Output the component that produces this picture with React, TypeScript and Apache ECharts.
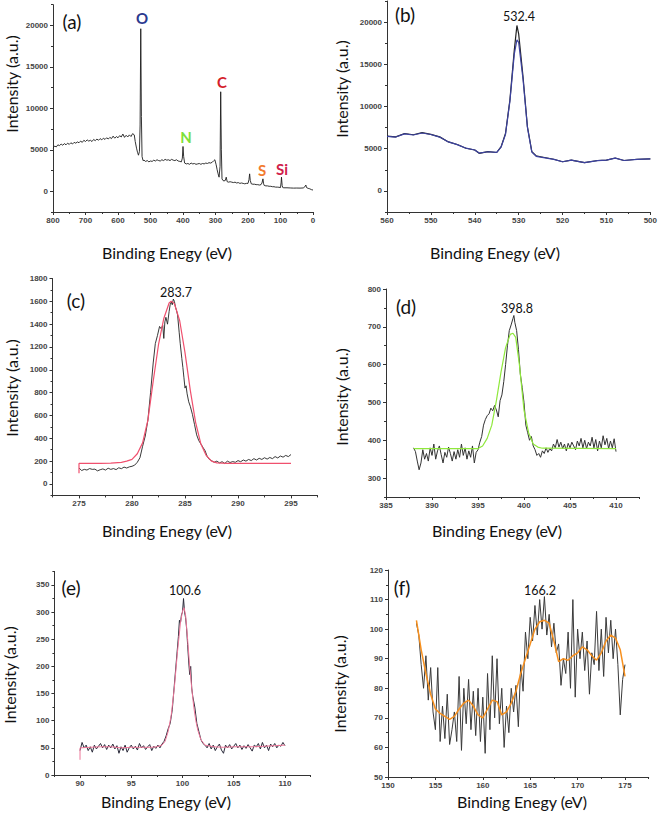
import React, { useEffect, useRef } from "react";
import * as echarts from "echarts";

// ---------- Panel (a): survey ----------
const aX = [800,795,790,785,780,775,770,765,760,755,750,745,740,735,730,725,720,715,710,705,700,695,690,685,680,675,670,665,660,655,650,645,640,635,630,625,620,615,610,605,600,595,590,585,580,575,570,565,560,555,550,547,543,540,537,534,532,530,528,526,523,520,515,510,505,500,495,490,485,480,475,470,465,460,455,450,445,440,435,430,425,420,415,410,405,402,400,398,395,390,385,380,375,370,365,360,355,350,345,340,335,330,325,320,315,310,305,302,298,295,292,289,286,284,282,280,277,274,270,267,264,260,255,250,245,240,235,230,225,220,215,210,205,200,197,195,193,190,185,180,175,170,165,160,157,154,152,150,145,140,135,130,125,120,115,110,105,100,98,97,95,93,90,80,70,60,50,40,30,25,22,20,15,10,5,0];
const aY = [5200,5450,5350,5600,5500,5700,5550,5750,5600,5800,5650,5850,5700,5900,5800,5950,5850,6050,5900,6150,6000,6200,6050,6150,6000,6250,6100,6300,6150,6350,6200,6400,6250,6450,6300,6500,6350,6650,6400,6600,6450,6700,6550,6900,6500,6750,6550,6800,6600,6950,6800,6000,5200,4700,4350,4800,8000,19600,9000,4200,3700,3750,3600,3700,3550,3650,3600,3750,3650,3800,3700,3650,3800,3700,3850,3750,3800,3700,3850,3750,3700,3800,3650,3600,3550,4000,5400,4200,3400,3300,3350,3250,3400,3300,3350,3250,3300,3350,3250,3350,3300,3400,3350,3450,3400,3500,3700,3800,3200,2600,2100,1700,3000,12000,5000,1500,1300,1250,1300,1700,1150,1100,1150,1100,1050,1100,1000,1050,950,1000,950,900,950,950,1400,2100,1300,900,850,850,800,800,750,800,1000,1500,900,700,650,650,600,600,550,550,500,500,480,450,1100,1700,700,450,420,420,400,380,390,380,400,550,750,450,350,300,200,150];

// ---------- Panel (b): O 1s ----------
const bX = [560,558,556,554,552,550,548,546,544,542,540,539,537,535,534,533,532,531,530.4,530,529,528,527,526,525,522,520,518,515,512,510,508,506,503,500];
const bBlackY = [6500,6400,6800,6650,6900,6700,6400,5800,5500,5050,4850,4450,4650,4550,5250,6800,10750,16650,19600,18600,13500,7600,4650,4150,4050,3750,3450,3650,3350,3600,3650,3900,3600,3750,3800];
const bFitY = [6450,6380,6750,6620,6860,6680,6380,5800,5480,5060,4850,4480,4640,4560,5200,6700,10600,16200,17900,17600,13200,7500,4600,4100,4000,3730,3450,3640,3360,3590,3640,3880,3600,3740,3790];

// ---------- Panel (c): C 1s ----------
const cX = [275,275.25,275.5,275.75,276,276.25,276.5,276.75,277,277.25,277.5,277.75,278,278.25,278.5,278.75,279,279.25,279.5,279.75,280,280.25,280.5,280.75,281,281.25,281.5,281.75,282,282.2,282.4,282.6,282.75,282.9,283,283.1,283.2,283.35,283.5,283.6,283.7,283.8,283.9,284,284.1,284.2,284.3,284.45,284.55,284.7,284.8,284.9,285,285.1,285.2,285.35,285.5,285.7,285.9,286.1,286.3,286.5,286.7,286.9,287.1,287.3,287.5,287.75,288,288.25,288.5,288.75,289,289.25,289.5,289.75,290,290.25,290.5,290.75,291,291.25,291.5,291.75,292,292.25,292.5,292.75,293,293.25,293.5,293.75,294,294.25,294.5,294.75,295];
const cY = [140,118,128,122,135,128,130,115,125,132,122,138,128,135,126,142,134,148,140,150,155,165,190,230,330,420,560,800,1060,1230,1300,1380,1360,1390,1275,1420,1460,1400,1510,1570,1595,1570,1620,1600,1550,1520,1480,1330,1230,1100,1020,930,840,860,790,720,680,610,520,430,380,350,320,290,240,215,205,190,200,185,195,180,200,188,196,190,205,195,210,200,215,205,222,210,225,215,230,218,232,222,240,228,245,235,250,240,258];
const cFitX = [275,275,276,277,278,279,279.5,280,280.5,281,281.5,282,282.5,283,283.5,283.7,284,284.5,285,285.5,286,286.5,287,287.5,288,289,295];
const cFitY = [95,180,180,180,182,190,200,215,265,360,560,900,1220,1450,1585,1600,1580,1430,1150,820,540,350,250,200,185,180,180];

// ---------- Panel (d): N 1s ----------
const dX = [388,388.2,388.4,388.6,388.8,389,389.2,389.4,389.6,389.8,390,390.2,390.4,390.6,390.8,391,391.2,391.4,391.6,391.8,392,392.2,392.4,392.6,392.8,393,393.2,393.4,393.6,393.8,394,394.2,394.4,394.6,394.8,395,395.2,395.4,395.6,395.8,396,396.2,396.4,396.6,396.8,397,397.2,397.4,397.6,397.8,398,398.2,398.4,398.6,398.8,398.9,399,399.2,399.4,399.6,399.8,400,400.2,400.4,400.6,400.8,401,401.2,401.4,401.6,401.8,402,402.2,402.4,402.6,402.8,403,403.2,403.4,403.6,403.8,404,404.2,404.4,404.6,404.8,405,405.2,405.4,405.6,405.8,406,406.2,406.4,406.6,406.8,407,407.2,407.4,407.6,407.8,408,408.2,408.4,408.6,408.8,409,409.2,409.4,409.6,409.8,410];
const dY = [380,370,345,322,340,375,350,365,345,380,360,390,350,372,385,362,340,368,355,382,365,345,370,350,375,355,390,360,380,350,372,355,385,340,368,375,395,410,440,455,465,470,485,478,492,480,462,505,520,555,600,650,690,705,722,730,712,690,640,575,540,500,440,420,400,410,385,375,360,365,355,372,365,380,368,378,372,390,380,402,382,395,378,390,372,392,380,395,385,375,398,385,405,380,400,378,395,385,408,380,402,372,398,380,412,388,405,378,398,380,404,370];
const dFitX = [388,395,395.5,396,396.5,397,397.5,398,398.5,398.8,399.1,399.5,400,400.5,401,401.5,402,410];
const dFitY = [378,378,385,405,440,505,580,645,680,683,672,600,480,420,390,382,379,378];

// ---------- Panel (e): Si 2p ----------
const eX = [90,90.2,90.4,90.6,90.8,91,91.2,91.4,91.6,91.8,92,92.2,92.4,92.6,92.8,93,93.2,93.4,93.6,93.8,94,94.2,94.4,94.6,94.8,95,95.2,95.4,95.6,95.8,96,96.2,96.4,96.6,96.8,97,97.2,97.4,97.6,97.8,98,98.2,98.4,98.6,98.8,99,99.2,99.4,99.6,99.7,99.8,99.9,100,100.1,100.2,100.3,100.4,100.5,100.6,100.7,100.8,100.9,101,101.2,101.4,101.6,101.8,102,102.2,102.4,102.6,102.8,103,103.2,103.4,103.6,103.8,104,104.2,104.4,104.6,104.8,105,105.2,105.4,105.6,105.8,106,106.2,106.4,106.6,106.8,107,107.2,107.4,107.6,107.8,108,108.2,108.4,108.6,108.8,109,109.2,109.4,109.6,109.8,110];
const eY = [45,60,50,55,45,52,42,55,48,53,58,50,56,47,55,50,57,48,54,40,52,45,55,42,50,55,48,53,46,58,50,54,47,52,56,45,53,49,55,50,57,62,72,85,95,120,165,210,255,285,280,295,300,325,300,290,270,240,210,185,200,160,145,125,95,80,65,58,55,50,58,48,55,45,52,57,46,40,55,50,56,48,53,58,50,55,47,54,49,56,50,44,55,52,58,48,60,50,55,45,57,52,58,50,55,53,60,54];
const eFitX = [90,90,91,92,93,94,95,96,97,97.5,98,98.3,98.6,98.9,99.2,99.5,99.8,100,100.15,100.3,100.5,100.7,100.9,101.1,101.3,101.5,101.8,102.2,103,104,105,106,107,108,109,110];
const eFitY = [28,50,51,52,52,50,51,51,51,52,55,62,80,110,160,225,280,302,308,295,250,200,160,125,100,82,65,55,52,51,52,52,52,53,54,55];

// ---------- Panel (f): S 2p ----------
const fX = [153,153.25,153.5,153.75,154,154.25,154.5,154.75,155,155.25,155.5,155.75,156,156.25,156.5,156.75,157,157.25,157.5,157.75,158,158.25,158.5,158.75,159,159.25,159.5,159.75,160,160.25,160.5,160.75,161,161.25,161.5,161.75,162,162.25,162.5,162.75,163,163.25,163.5,163.75,164,164.25,164.5,164.75,165,165.25,165.5,165.75,166,166.25,166.5,166.75,167,167.25,167.5,167.75,168,168.25,168.5,168.75,169,169.25,169.5,169.75,170,170.25,170.5,170.75,171,171.25,171.5,171.75,172,172.25,172.5,172.75,173,173.25,173.5,173.75,174,174.25,174.5,174.75,175];
const fY = [102,98,88,80,91,76,87,72,66,87,62,74,63,78,61,66,72,62,84,59,80,68,83,66,79,64,80,62,77,58,85,66,91,70,90,68,80,60,74,65,80,72,81,67,88,79,99,90,104,96,108,98,110,100,111,98,105,94,102,92,95,81,90,85,99,80,110,77,100,90,99,86,96,78,92,88,106,86,100,84,104,92,103,90,100,88,71,83,88];
const fFitX = [153,153.5,154,154.5,155,155.5,156,156.5,157,157.5,158,158.5,159,159.5,160,160.5,161,161.5,162,162.5,163,163.5,164,164.5,165,165.5,166,166.5,167,167.5,168,168.5,169,169.5,170,170.5,171,171.5,172,172.5,173,173.5,174,174.5,175];
const fFitY = [103,93,85,78,73,71.5,70.5,69.5,70.5,73,75,76,74,71,70,73,76,75.5,71,72,75,79,85,90,95,100,102.5,103,102,96,89,90,89.5,91,92,94,93,91,89.5,92,96,98,97,93,84];

// ---------- Axis ticks / labels ----------
const aXLabels = [0,100,200,300,400,500,600,700,800];
const aXMinor = [50,150,250,350,450,550,650,750];
const abYLabels = [0,5000,10000,15000,20000];
const abYMinor = [-2500,2500,7500,12500,17500,22500];
const bXLabels = [500,510,520,530,540,550,560];
const bXMinor = [505,515,525,535,545,555];
const cXLabels = [275,280,285,290,295];
const cXMinor = [272.5,277.5,282.5,287.5,292.5,297.5];
const cYLabels = [0,200,400,600,800,1000,1200,1400,1600,1800];
const cYMinor = [-100,100,300,500,700,900,1100,1300,1500,1700];
const dXLabels = [385,390,395,400,405,410];
const dXMinor = [387.5,392.5,397.5,402.5,407.5,412.5];
const dYLabels = [300,400,500,600,700,800];
const dYMinor = [250,350,450,550,650,750];
const eXLabels = [90,95,100,105,110];
const eXMinor = [87.5,92.5,97.5,102.5,107.5,112.5];
const eYLabels = [0,50,100,150,200,250,300,350];
const eYMinor = [25,75,125,175,225,275,325,375];
const fXLabels = [150,155,160,165,170,175];
const fXMinor = [152.5,157.5,162.5,167.5,172.5,177.5];
const fYLabels = [50,60,70,80,90,100,110,120];
const fYMinor = [55,65,75,85,95,105,115];

const panelLetters = ["(a)", "(b)", "(c)", "(d)", "(e)", "(f)"];
const peakLabels = ["532.4", "283.7", "398.8", "100.6", "166.2"];
const elementLabels = ["O", "N", "C", "S", "Si"];
const elementColors = ["#2b3a8f", "#7ee03a", "#d4202a", "#f27b2e", "#d0204a"];

const pairs = (xs: number[], ys: number[]) => xs.map((x, i) => [x, ys[i]]);

const AXIS_COLOR = "#333";
const labelFont = {
  fontFamily: "Liberation Sans", fontSize: 8, fontWeight: "bold" as const, color: "#444",
  formatter: (v: number) => String(v),
};

function xAxes(gi: number, min: number, max: number, inverse: boolean, labels: number[], minors: number[]) {
  return [
    {
      type: "value", gridIndex: gi, min, max, inverse, position: "bottom",
      axisLine: { show: true, onZero: false, lineStyle: { color: AXIS_COLOR, width: 1 } },
      axisTick: { show: true, customValues: labels, length: 3, lineStyle: { color: AXIS_COLOR } },
      axisLabel: { customValues: labels, margin: 4, ...labelFont },
      splitLine: { show: false },
    },
    {
      type: "value", gridIndex: gi, min, max, inverse, position: "bottom",
      axisLine: { show: false, onZero: false },
      axisTick: { show: true, customValues: minors, length: 2, lineStyle: { color: AXIS_COLOR } },
      axisLabel: { show: false },
      splitLine: { show: false },
    },
  ];
}
function yAxes(gi: number, min: number, max: number, labels: number[], minors: number[]) {
  return [
    {
      type: "value", gridIndex: gi, min, max, position: "left",
      axisLine: { show: true, onZero: false, lineStyle: { color: AXIS_COLOR, width: 1 } },
      axisTick: { show: true, customValues: labels, length: 3, lineStyle: { color: AXIS_COLOR } },
      axisLabel: { customValues: labels, margin: 5, ...labelFont },
      splitLine: { show: false },
    },
    {
      type: "value", gridIndex: gi, min, max, position: "left",
      axisLine: { show: false, onZero: false },
      axisTick: { show: true, customValues: minors, length: 2, lineStyle: { color: AXIS_COLOR } },
      axisLabel: { show: false },
      splitLine: { show: false },
    },
  ];
}

function line(gi: number, data: number[][], color: string, width: number) {
  return {
    type: "line", xAxisIndex: gi * 2, yAxisIndex: gi * 2, data, showSymbol: false, symbol: "none",
    lineStyle: { color, width }, silent: true, z: 2,
  };
}

const TITLE_FONT = "Lato";

function text(x: number, y: number, s: string, size: number, fill: string, opts: any = {}) {
  return {
    type: "text", x, y, rotation: opts.rotation || 0,
    style: { text: s, fill, fontSize: size, fontFamily: opts.font || TITLE_FONT, fontWeight: opts.weight || "normal", align: "center", verticalAlign: "middle" },
    z: 10,
  };
}

export default function App() {
  const ref = useRef<HTMLDivElement>(null);
  useEffect(() => {
    if (!ref.current) return;
    const chart = echarts.init(ref.current, null, { renderer: "svg" });
    const grids = [
      { left: 53, top: 4.7, width: 260, height: 207.3 },
      { left: 387, top: 1, width: 265, height: 211 },
      { left: 52.5, top: 278.5, width: 265, height: 216.9 },
      { left: 386, top: 289, width: 253, height: 208 },
      { left: 54.4, top: 571.4, width: 256.2, height: 203.6 },
      { left: 388, top: 570, width: 260.7, height: 207 },
    ];
    const xAxis = [
      ...xAxes(0, 0, 800, true, aXLabels, aXMinor),
      ...xAxes(1, 500, 560, true, bXLabels, bXMinor),
      ...xAxes(2, 272.5, 297.5, false, cXLabels, cXMinor),
      ...xAxes(3, 385, 412.5, false, dXLabels, dXMinor),
      ...xAxes(4, 87.5, 112.5, false, eXLabels, eXMinor),
      ...xAxes(5, 150, 177.5, false, fXLabels, fXMinor),
    ];
    const yAxis = [
      ...yAxes(0, -2500, 22500, abYLabels, abYMinor),
      ...yAxes(1, -2500, 22500, abYLabels, abYMinor),
      ...yAxes(2, -100, 1800, cYLabels, cYMinor),
      ...yAxes(3, 250, 800, dYLabels, dYMinor),
      ...yAxes(4, 0, 375, eYLabels, eYMinor),
      ...yAxes(5, 50, 120, fYLabels, fYMinor),
    ];
    const series = [
      line(0, pairs(aX, aY), "#1e1e1e", 0.9),
      line(1, pairs(bX, bBlackY), "#222222", 1.2),
      line(1, pairs(bX, bFitY), "#3c42a0", 1.2),
      line(2, pairs(cX, cY), "#222222", 0.9),
      line(2, pairs(cFitX, cFitY), "#f0506e", 1.2),
      line(3, pairs(dX, dY), "#333333", 1),
      line(3, pairs(dFitX, dFitY), "#8fe83c", 1.2),
      line(4, pairs(eX, eY), "#2a2a3a", 1),
      line(4, pairs(eFitX, eFitY), "#ee7799", 1),
      line(5, pairs(fX, fY), "#3a3a3a", 1),
      line(5, pairs(fFitX, fFitY), "#f7901e", 1.5),
    ];
    const yTitle = "Intensity (a.u.)";
    const xTitle = "Binding Enegy (eV)";
    const rot = Math.PI / 2;
    const graphic = [
      text(11, 84, yTitle, 16, "#111", { rotation: rot }),
      text(341, 89, yTitle, 16, "#111", { rotation: rot }),
      text(11, 388, yTitle, 16, "#111", { rotation: rot }),
      text(341, 397, yTitle, 16, "#111", { rotation: rot }),
      text(9, 675, yTitle, 16, "#111", { rotation: rot }),
      text(339, 684, yTitle, 16, "#111", { rotation: rot }),
      text(167, 252, xTitle, 16, "#111"),
      text(495, 252, xTitle, 16, "#111"),
      text(167, 530, xTitle, 16, "#111"),
      text(497, 530, xTitle, 16, "#111"),
      text(166, 801, xTitle, 16, "#111"),
      text(522, 801, xTitle, 16, "#111"),
      text(72, 21, panelLetters[0], 19, "#111"),
      text(405, 14, panelLetters[1], 19, "#111"),
      text(76, 300, panelLetters[2], 19, "#111"),
      text(406, 306, panelLetters[3], 19, "#111"),
      text(71, 587, panelLetters[4], 19, "#111"),
      text(402, 587, panelLetters[5], 19, "#111"),
      text(519, 16, peakLabels[0], 12.5, "#111"),
      text(176, 292, peakLabels[1], 12.5, "#111"),
      text(517, 308, peakLabels[2], 12.5, "#111"),
      text(185, 590, peakLabels[3], 12.5, "#111"),
      text(540, 590, peakLabels[4], 12.5, "#111"),
      text(142, 18, elementLabels[0], 15, elementColors[0], { weight: "bold" }),
      text(186, 137, elementLabels[1], 15, elementColors[1], { weight: "bold" }),
      text(222, 82, elementLabels[2], 15, elementColors[2], { weight: "bold" }),
      text(262, 170, elementLabels[3], 15, elementColors[3], { weight: "bold" }),
      text(282, 169, elementLabels[4], 15, elementColors[4], { weight: "bold" }),
    ];
    chart.setOption({
      animation: false,
      backgroundColor: "#ffffff",
      grid: grids,
      xAxis,
      yAxis,
      series,
      graphic,
    });
    return () => chart.dispose();
  }, []);
  return (
    <div
      ref={ref}
      style={{ position: "absolute", left: 0, top: 0, width: 660, height: 815, background: "#fff" }}
    />
  );
}
